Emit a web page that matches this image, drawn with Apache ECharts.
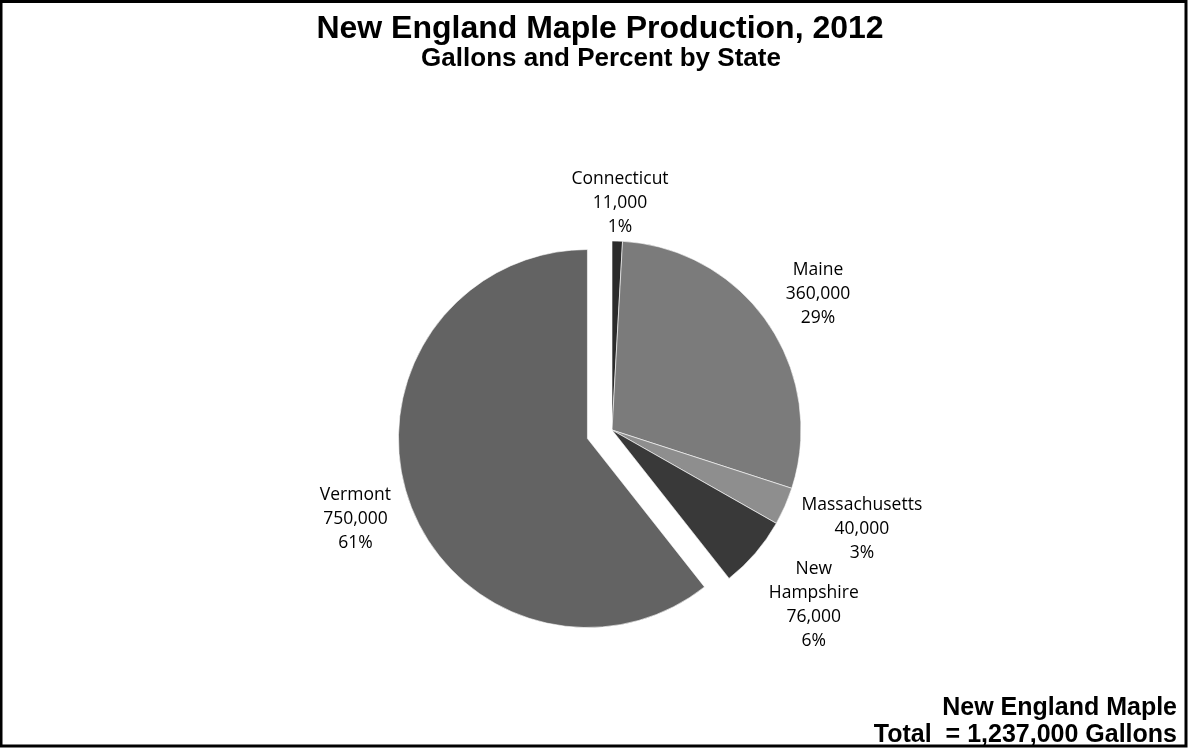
<!DOCTYPE html>
<html>
<head>
<meta charset="utf-8">
<script src="https://cdn.jsdelivr.net/npm/echarts@6/dist/echarts.min.js"></script>
<style>
  html, body { margin: 0; padding: 0; background: #fff; }
  #main { width: 1188px; height: 748px; }
</style>
</head>
<body>
<div id="main"></div>
<script>
// 数据
const states = ["Connecticut", "Maine", "Massachusetts", "New Hampshire", "Vermont"];
const gallons = [11000, 360000, 40000, 76000, 750000];
const percents = [1, 29, 3, 6, 61];
const totalGallons = 1237000;

// 样式
const shades = ["#2b2b2b", "#7b7b7b", "#8e8e8e", "#393939", "#636363"];
const pieCenter = [612, 430];
const pieRadius = 189;
const explode = 26; // Vermont 扇区拉出的距离
const explodedIndex = 4;
// 标签中心离圆心的距离，和相对扇区中线的角度微调（度）
const labelDist = [229, 248, 268, 266, 245];
const labelTilt = [0.4, 0.6, -2.6, 0, 0.4];

const sum = gallons.reduce((a, b) => a + b, 0);
function midAngle(i) {
  let before = 0;
  for (let k = 0; k < i; k++) before += gallons[k];
  return ((before + gallons[i] / 2) / sum) * Math.PI * 2;
}

// 拉出扇区的圆心
const em = midAngle(explodedIndex);
const explodedCenter = [
  pieCenter[0] + Math.sin(em) * explode,
  pieCenter[1] - Math.cos(em) * explode,
];

function makeSeries(center, showIndex) {
  return {
    type: "pie",
    center: center,
    radius: pieRadius,
    startAngle: 90,
    clockwise: true,
    avoidLabelOverlap: false,
    emphasis: { disabled: true },
    silent: true,
    label: {
      show: true,
      position: "outside",
      fontFamily: "Open Sans",
      fontSize: 17.5,
      lineHeight: 24,
      color: "#000",
      formatter: (p) =>
        p.name.replace("New Hampshire", "New\nHampshire") +
        "\n" +
        p.value.toLocaleString("en-US") +
        "\n" +
        percents[p.dataIndex] +
        "%",
    },
    labelLine: { show: false },
    labelLayout: (p) => {
      const i = p.dataIndex;
      const a = midAngle(i) + (labelTilt[i] * Math.PI) / 180;
      return {
        x: center[0] + Math.sin(a) * labelDist[i],
        y: center[1] - Math.cos(a) * labelDist[i] + 2,
        align: "center",
        verticalAlign: "middle",
      };
    },
    data: states.map((name, i) => {
      const on = showIndex(i);
      return {
        name: name,
        value: gallons[i],
        itemStyle: on
          ? { color: shades[i], borderColor: "#fff", borderWidth: 0.6 }
          : { color: "rgba(0,0,0,0)", borderWidth: 0 },
        label: { show: on },
      };
    }),
  };
}

const chart = echarts.init(document.getElementById("main"));

const option = {
  animation: false,
  graphic: [
    {
      type: "rect",
      shape: { x: 1, y: 1.5, width: 1185, height: 744.5 },
      style: { fill: "none", stroke: "#000", lineWidth: 3 },
      silent: true,
    },
    {
      type: "text",
      x: 600,
      y: 29,
      style: {
        text: "New England Maple Production, 2012",
        font: "bold 32px 'Liberation Sans', Arial, sans-serif",
        fill: "#000",
        align: "center",
        verticalAlign: "middle",
      },
    },
    {
      type: "text",
      x: 601,
      y: 59,
      style: {
        text: "Gallons and Percent by State",
        font: "bold 26px 'Liberation Sans', Arial, sans-serif",
        fill: "#000",
        align: "center",
        verticalAlign: "middle",
      },
    },
    {
      type: "text",
      x: 1177,
      y: 722,
      style: {
        text:
          "New England Maple\nTotal  = " +
          totalGallons.toLocaleString("en-US") +
          " Gallons",
        font: "bold 25px 'Liberation Sans', Arial, sans-serif",
        lineHeight: 27,
        fill: "#000",
        align: "right",
        verticalAlign: "middle",
      },
    },
  ],
  series: [
    makeSeries(pieCenter, (i) => i !== explodedIndex),
    makeSeries(explodedCenter, (i) => i === explodedIndex),
  ],
};

chart.setOption(option);
</script>
</body>
</html>
